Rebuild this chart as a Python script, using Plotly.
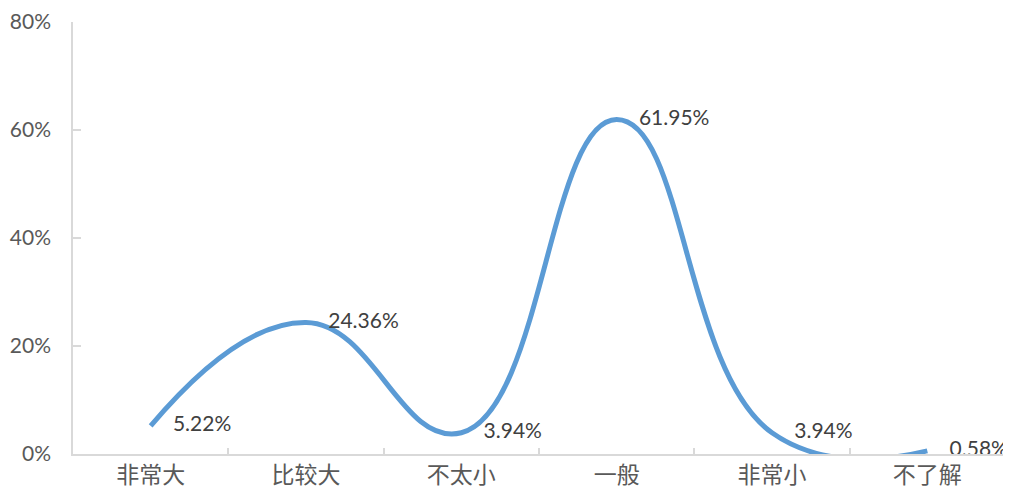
import plotly.graph_objects as go

categories = ["非常大", "比较大", "不太小", "一般", "非常小", "不了解"]
values = [5.22, 24.36, 3.94, 61.95, 3.94, 0.58]
labels = ["5.22%", "24.36%", "3.94%", "61.95%", "3.94%", "0.58%"]
y_ticks = [0, 20, 40, 60, 80]
y_tick_text = ["0%", "20%", "40%", "60%", "80%"]

FONT = "Lato, 'Noto Sans CJK SC', sans-serif"

fig = go.Figure()
fig.add_trace(go.Scatter(
    x=categories, y=values, mode="lines+markers+text",
    line=dict(color="#5B9BD5", width=5, shape="spline", smoothing=1.3),
    marker=dict(size=34, color="rgba(0,0,0,0)"),
    text=labels, textposition="middle right",
    textfont=dict(family=FONT, size=21, color="#404040"),
    cliponaxis=False, hoverinfo="skip",
))
fig.update_layout(
    width=1003, height=489,
    margin=dict(l=65, r=6, t=14, b=43, autoexpand=False),
    paper_bgcolor="white", plot_bgcolor="white",
    showlegend=False,
    font=dict(family=FONT, color="#595959", size=20),
)
fig.update_xaxes(
    type="category", showgrid=False, showline=True, linecolor="#D9D9D9", linewidth=1.5,
    ticks="inside", tickson="boundaries", ticklen=6, tickcolor="#D9D9D9", tickwidth=1.5,
    tickfont=dict(family="'Noto Sans CJK SC', sans-serif", size=23, color="#595959"),
    range=[-0.5, 5.5], zeroline=False, automargin=False, ticklabeloverflow="allow",
)
fig.update_yaxes(
    range=[0, 80], tickvals=y_ticks, ticktext=y_tick_text, showgrid=False,
    showline=True, linecolor="#D9D9D9", linewidth=1.5, zeroline=False,
    ticks="inside", ticklen=8, tickcolor="#D9D9D9", tickwidth=1.5,
    tickfont=dict(family=FONT, size=21, color="#595959"),
    ticklabelstandoff=16, automargin=False, ticklabeloverflow="allow",
)
fig.write_html("out.html")
